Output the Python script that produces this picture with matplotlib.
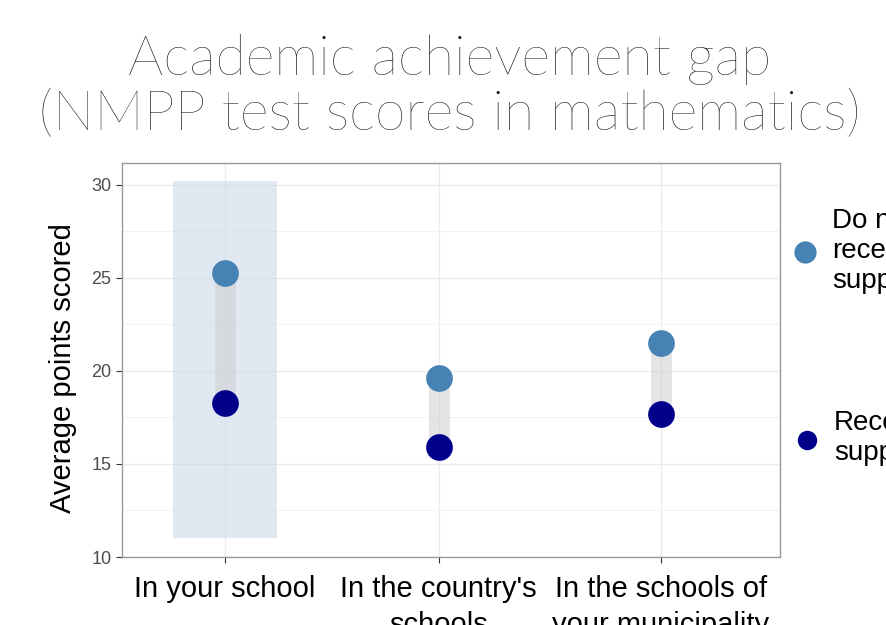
import matplotlib
matplotlib.use("Agg")
import matplotlib.pyplot as plt
from matplotlib.lines import Line2D
import numpy as np

categories = ["In your school", "In the country's\nschools", "In the schools of\nyour municipality"]
no_support = [25.25, 19.6, 21.5]
support = [18.3, 15.9, 17.7]
highlight = 0          # index of the highlighted category
highlight_span = (11.0, 30.2)
legend_labels = ["Do not\nreceive\nsupport", "Receive\nsupport"]

col_no = "#4682B4"
col_yes = "#00008B"

plt.rcParams['font.family'] = ['Liberation Sans', 'DejaVu Sans']

fig = plt.figure(figsize=(8.86, 6.25), dpi=100)
ax = fig.add_axes([122/886, 1-557/625, (780-122)/886, (557-163)/625])

x = np.array([1.0, 1.98, 3.0])

# highlight box behind the first category
ax.fill_between([x[highlight]-0.24, x[highlight]+0.24], highlight_span[0], highlight_span[1],
                color="#c8d7e8", alpha=0.55, lw=0, zorder=1)

# grey bars joining the two groups
for xi, a, b in zip(x, no_support, support):
    ax.plot([xi, xi], [a, b], color="#cfcfcf", alpha=0.55, lw=15, solid_capstyle="butt", zorder=2)

ax.scatter(x, no_support, s=370, color=col_no, zorder=3, lw=0)
ax.scatter(x, support, s=370, color=col_yes, zorder=3, lw=0)

ax.set_xlim(0.527, 3.546)
ax.set_ylim(10, 31.18)
ax.set_yticks([10, 15, 20, 25, 30])
ax.set_yticks([12.5, 17.5, 22.5, 27.5], minor=True)
ax.set_xticks(x)
ax.set_xticklabels(categories, fontsize=21, color="black", va="top", linespacing=1.35)
ax.tick_params(axis="y", labelsize=13, colors="#4d4d4d", length=4, color="#333333")
ax.tick_params(axis="y", which="minor", length=0)
ax.tick_params(axis="x", length=4, color="#333333", pad=9)
ax.grid(True, which="major", color="#ebebeb", lw=1)
ax.grid(True, which="minor", axis="y", color="#f2f2f2", lw=0.8)
ax.set_axisbelow(True)
for s in ax.spines.values():
    s.set_color("#999999")
    s.set_linewidth(1)
ax.set_ylabel("Average points scored", fontsize=21, color="black")
ax.yaxis.set_label_coords(-0.068, 0.48)

fig.text(0.508, 1-87/625, "Academic achievement gap\n(NMPP test scores in mathematics)",
         family=["Lato", "DejaVu Sans"], fontweight="light", fontsize=40,
         ha="center", va="center", linespacing=1.12, color="#111111")

# legend drawn manually, partly cut by the figure edge
fig.add_artist(Line2D([805/886], [1-252/625], marker="o", ms=16, color=col_no, mew=0,
                      transform=fig.transFigure))
fig.add_artist(Line2D([807/886], [1-440/625], marker="o", ms=14, color=col_yes, mew=0,
                      transform=fig.transFigure))
fig.text(832/886, 1-251/625, legend_labels[0], fontsize=20, ha="left", va="center", linespacing=1.2)
fig.text(834/886, 1-438/625, legend_labels[1], fontsize=20, ha="left", va="center", linespacing=1.2)

fig.savefig("out.png", dpi=100)
